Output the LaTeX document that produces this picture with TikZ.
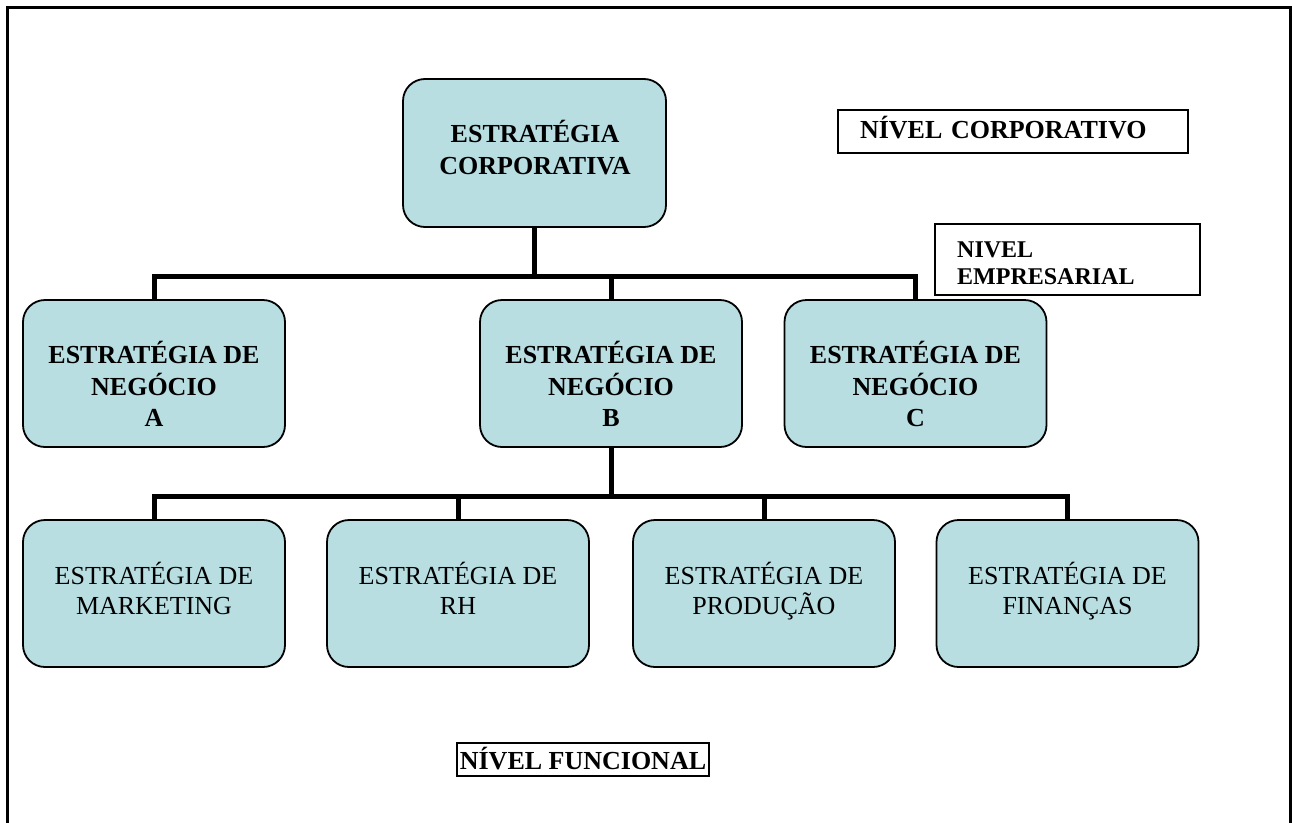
\documentclass[tikz,border=0pt]{standalone}
\usepackage{fontspec}
\setmainfont{Liberation Serif}
\definecolor{boxfill}{RGB}{184,222,226}
\begin{document}
\begin{tikzpicture}[x=1pt,y=-1pt,
  box/.style={draw=black, line width=1.8pt, fill=boxfill, rounded corners=22pt,
    inner sep=0pt, outer sep=0pt, minimum height=147pt, minimum width=262pt},
  conn/.style={draw=black, line width=5pt},
  bt/.style={font=\fontsize{26}{31.5}\selectfont\bfseries, align=center, inner sep=0pt},
  rt/.style={font=\fontsize{26}{30}\selectfont, align=center, inner sep=0pt},
  lvl/.style={draw=black, line width=1.5pt, fill=white, inner sep=0pt}
]
\useasboundingbox (0,0) rectangle (1292,822);
\clip (0,0) rectangle (1292,822);
% outer frame
\draw[line width=2.5pt] (7.5,840) -- (7.5,7.5) -- (1290.5,7.5) -- (1290.5,840);

% boxes
\node[box, minimum width=263pt, minimum height=148pt] (T) at (534.5,153) {};
\node[box] (A) at (154,373.5) {};
\node[box] (B) at (611,373.5) {};
\node[box] (C) at (915.5,373.5) {};
\node[box] (M) at (154,593.5) {};
\node[box] (R) at (458,593.5) {};
\node[box] (P) at (764,593.5) {};
\node[box] (F) at (1067.5,593.5) {};

% texts
\node[bt] (tT) at (535,147.5) {ESTRATÉGIA\\CORPORATIVA};
\node[bt] (tA) at (154,384) {ESTRATÉGIA DE\\NEGÓCIO\\A};
\node[bt] (tB) at (611,384) {ESTRATÉGIA DE\\NEGÓCIO\\B};
\node[bt] (tC) at (915.5,384) {ESTRATÉGIA DE\\NEGÓCIO\\C};
\node[rt] (tM) at (154,591) {ESTRATÉGIA DE\\MARKETING\vphantom{Ç}};
\node[rt] (tR) at (458,591) {ESTRATÉGIA DE\\RH\vphantom{Ç}};
\node[rt] (tP) at (764,591) {ESTRATÉGIA DE\\PRODUÇÃO};
\node[rt] (tF) at (1067.5,591) {ESTRATÉGIA DE\\FINANÇAS};

% connectors
\coordinate (j1) at (534.5,276);
\draw[conn] (T.south) -- (j1);
\draw[conn] (A.north) |- (j1);
\draw[conn] (C.north) |- (j1);
\draw[conn] (B.north) -- (B.north |- j1);
\coordinate (j2) at (611,496);
\draw[conn] (B.south) -- (j2);
\draw[conn] (M.north) |- (j2);
\draw[conn] (F.north) |- (j2);
\draw[conn] (R.north) -- (R.north |- j2);
\draw[conn] (P.north) -- (P.north |- j2);

% level labels
\node[lvl, minimum width=350pt, minimum height=43pt, text width=306pt, align=left,
  font=\fontsize{26}{31}\selectfont\bfseries, text height=20pt, text depth=7pt]
  (LC) at (1013,131.5) {NÍVEL CORPORATIVO};
\node[lvl, minimum width=265pt, minimum height=71pt] (LE) at (1067.5,259.5) {};
\node[font=\fontsize{24}{27}\selectfont\bfseries, align=left, inner sep=0pt, anchor=west]
  (tLE) at (957,263) {NIVEL\\EMPRESARIAL};
\node[lvl, minimum width=252pt, minimum height=33pt,
  font=\fontsize{26}{31}\selectfont\bfseries, text height=21pt, text depth=2pt]
  (LF) at (583,759.5) {NÍVEL FUNCIONAL};
\end{tikzpicture}
\end{document}
